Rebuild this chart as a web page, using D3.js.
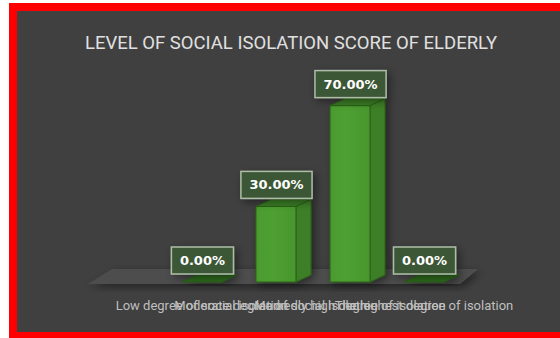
<!DOCTYPE html>
<html>
<head>
<meta charset="utf-8">
<script src="https://cdn.jsdelivr.net/npm/d3@7"></script>
<style>
  html, body { margin: 0; padding: 0; background: #ffffff; }
  svg { display: block; }
</style>
</head>
<body>
<div id="chart"></div>
<script>
const title = 'LEVEL OF SOCIAL ISOLATION SCORE OF ELDERLY'
const categories = [
    'Low degree of social isolation',
    'Moderate degree of social isolation',
    'Markedly high degree of isolation',
    'The highest degree of isolation'
]
const values = [0, 30, 70, 0]

const width = 560
const height = 338
const depthX = 15
const depthY = 7

const svg = d3.select('#chart')
    .append('svg')
    .attr('width', width)
    .attr('height', height)

let defs = svg.append('defs')
defs.append('filter')
    .attr('id', 'shadow')
    .attr('x', '-50%').attr('y', '-50%')
    .attr('width', '200%').attr('height', '200%')
    .append('feDropShadow')
    .attr('dx', 3).attr('dy', 3)
    .attr('stdDeviation', 4)
    .attr('flood-color', '#000')
    .attr('flood-opacity', 0.45)

let grad = defs.append('linearGradient')
    .attr('id', 'front')
    .attr('x1', 0).attr('x2', 1).attr('y1', 0).attr('y2', 0)
grad.append('stop').attr('offset', '0%').attr('stop-color', '#4a9a2f')
grad.append('stop').attr('offset', '40%').attr('stop-color', '#4fa032')
grad.append('stop').attr('offset', '100%').attr('stop-color', '#47962d')

// red frame and dark chart area
svg.append('rect')
    .attr('x', 9).attr('y', 3)
    .attr('width', width).attr('height', height)
    .attr('fill', '#ff0000')
svg.append('rect')
    .attr('x', 17).attr('y', 11)
    .attr('width', width).attr('height', 321)
    .attr('fill', '#404040')

svg.append('text')
    .attr('x', 291)
    .attr('y', 49)
    .attr('text-anchor', 'middle')
    .attr('fill', '#e0e0e0')
    .style('font-family', 'Roboto, sans-serif')
    .style('font-size', '18.5px')
    .text(title)

let x = d3.scaleBand()
    .domain(categories)
    .range([139, 487])
    .paddingInner(0.46)
    .paddingOuter(0.58)

let y = d3.scaleLinear()
    .domain([0, 100])
    .range([282, 30])

// floor
let fl = 88, fr = 460, fb = 284, ft = 269
svg.append('path')
    .attr('d', `M${fl},${fb} L${fl + 24},${ft} L${fr + 18},${ft} L${fr},${fb} Z`)
    .attr('fill', '#4e4e4e')
    .attr('filter', 'url(#shadow)')

let bars = svg.selectAll('.bar')
    .data(categories.map((c, i) => ({ cat: c, val: values[i] })))
    .enter().append('g')
    .attr('class', 'bar')
    .attr('filter', 'url(#shadow)')

bars.each(function (d) {
    let g = d3.select(this)
    let x0 = x(d.cat)
    let bw = x.bandwidth()
    let yt = y(d.val)
    let yb = y(0)
    if (d.val > 0) {
        g.append('path')
            .attr('d', `M${x0 + bw},${yt} L${x0 + bw + depthX},${yt - depthY} L${x0 + bw + depthX},${yb - depthY} L${x0 + bw},${yb} Z`)
            .attr('fill', '#3c7f27')
            .attr('stroke', '#2b6318')
            .attr('stroke-width', 1)
        g.append('rect')
            .attr('x', x0).attr('y', yt)
            .attr('width', bw).attr('height', yb - yt)
            .attr('fill', 'url(#front)')
            .attr('stroke', '#2b6318')
            .attr('stroke-width', 1)
    }
    g.append('path')
        .attr('d', `M${x0},${yt} L${x0 + depthX},${yt - depthY} L${x0 + bw + depthX},${yt - depthY} L${x0 + bw},${yt} Z`)
        .attr('fill', d.val > 0 ? '#3b7d26' : '#2f6b1f')
        .attr('stroke', '#2b6318')
        .attr('stroke-width', 1)
})

// data labels
let fmt = d3.format('.2%')
let labels = svg.selectAll('.label')
    .data(categories.map((c, i) => ({ cat: c, val: values[i] })))
    .enter().append('g')
    .attr('class', 'label')

labels.each(function (d) {
    let g = d3.select(this)
    let cx = x(d.cat) + x.bandwidth() / 2 + 0.5
    let bottom = y(d.val) - depthY - 1
    let box = g.append('rect')
    let t = g.append('text')
        .attr('x', cx)
        .attr('y', bottom - 9)
        .attr('text-anchor', 'middle')
        .attr('fill', '#ffffff')
        .style('font-family', 'DejaVu Sans, sans-serif')
        .style('font-weight', 'bold')
        .style('font-size', '13px')
        .text(fmt(d.val / 100))
    let tw = t.node().getComputedTextLength()
    box.attr('x', cx - tw / 2 - 8.5)
        .attr('y', bottom - 27)
        .attr('width', tw + 17)
        .attr('height', 27)
        .attr('fill', '#3d5a35')
        .attr('fill-opacity', 0.95)
        .attr('stroke', '#aebda8')
        .attr('stroke-width', 1.5)
        .attr('filter', 'url(#shadow)')
})

// category axis labels
svg.selectAll('.cat')
    .data(categories)
    .enter().append('text')
    .attr('class', 'cat')
    .attr('x', (d) => x(d) + x.bandwidth() / 2)
    .attr('y', 310)
    .attr('text-anchor', 'middle')
    .attr('fill', '#bfbfbf')
    .style('font-family', 'Roboto, sans-serif')
    .style('font-size', '13px')
    .text((d) => d)
</script>
</body>
</html>
